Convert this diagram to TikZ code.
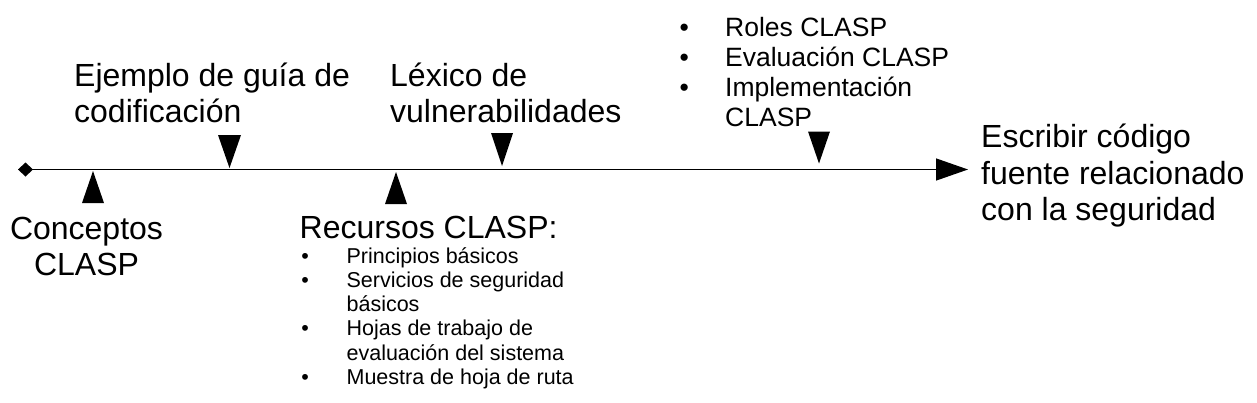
\documentclass[tikz,border=0pt]{standalone}
\usepackage{fontspec}
\setmainfont{Liberation Sans}
\usetikzlibrary{arrows.meta}

\tikzset{
  big/.style={font=\fontsize{32}{36.5}\selectfont, inner sep=0pt, anchor=base west},
  mid/.style={font=\fontsize{26.5}{30}\selectfont, inner sep=0pt, anchor=base west},
  small/.style={font=\fontsize{21.5}{24.3}\selectfont, inner sep=0pt, anchor=base west},
  marker/.style={fill=black},
}

\begin{document}
\begin{tikzpicture}[x=1pt, y=-1pt]
\useasboundingbox (0,0) rectangle (1257,402);

% time line
\coordinate (start) at (18,169.5);
\coordinate (finish) at (968,169.5);
\fill[marker] (start) -- ++(7.5,-7) -- ++(7.5,7) -- ++(-7.5,7) -- cycle;
\draw[line width=1.3pt, -{Triangle[length=32pt,width=22pt]}] (start) -- (finish);

% markers on the line
\coordinate (m1) at (93,169.5);
\coordinate (m2) at (229.5,169.5);
\coordinate (m3) at (396,169.5);
\coordinate (m4) at (502,169.5);
\coordinate (m5) at (819,169.5);
\fill[marker] (m1) ++(0,1.5) -- ++(11,32) -- ++(-22,0) -- cycle;
\fill[marker] (m2) ++(0,-1.5) -- ++(11.5,-33) -- ++(-23,0) -- cycle;
\fill[marker] (m3) ++(0,2.5) -- ++(11,32) -- ++(-22,0) -- cycle;
\fill[marker] (m4) ++(0,-3.5) -- ++(11,-33) -- ++(-22,0) -- cycle;
\fill[marker] (m5) ++(0,-6) -- ++(11,-32) -- ++(-22,0) -- cycle;

% labels
\node[big, anchor=base] (concepts) at (86.5,239) {\begin{tabular}[t]{@{}c@{}}Conceptos\\CLASP\end{tabular}};
\node[big] (guide) at (74,86) {\begin{tabular}[t]{@{}l@{}}Ejemplo de guía de\\codificación\end{tabular}};
\node[big] (resources) at (299.5,238) {Recursos CLASP:};
\node[small] (reslist) at (301.2,263) {\begin{tabular}[t]{@{}p{45.2pt}@{}l@{}}
\textbullet & Principios básicos\\
\textbullet & Servicios de seguridad\\
 & básicos\\
\textbullet & Hojas de trabajo de\\
 & evaluación del sistema\\
\textbullet & Muestra de hoja de ruta
\end{tabular}};
\node[big] (lexicon) at (390,86) {\begin{tabular}[t]{@{}l@{}}Léxico de\\vulnerabilidades\end{tabular}};
\node[mid] (roles) at (679.4,36) {\begin{tabular}[t]{@{}p{45.6pt}@{}l@{}}
\textbullet & Roles CLASP\\
\textbullet & Evaluación CLASP\\
\textbullet & Implementación\\
 & CLASP
\end{tabular}};
\node[big] (goal) at (981,147.5) {\begin{tabular}[t]{@{}l@{}}Escribir código\\fuente relacionado\\con la seguridad\end{tabular}};
\end{tikzpicture}
\end{document}
